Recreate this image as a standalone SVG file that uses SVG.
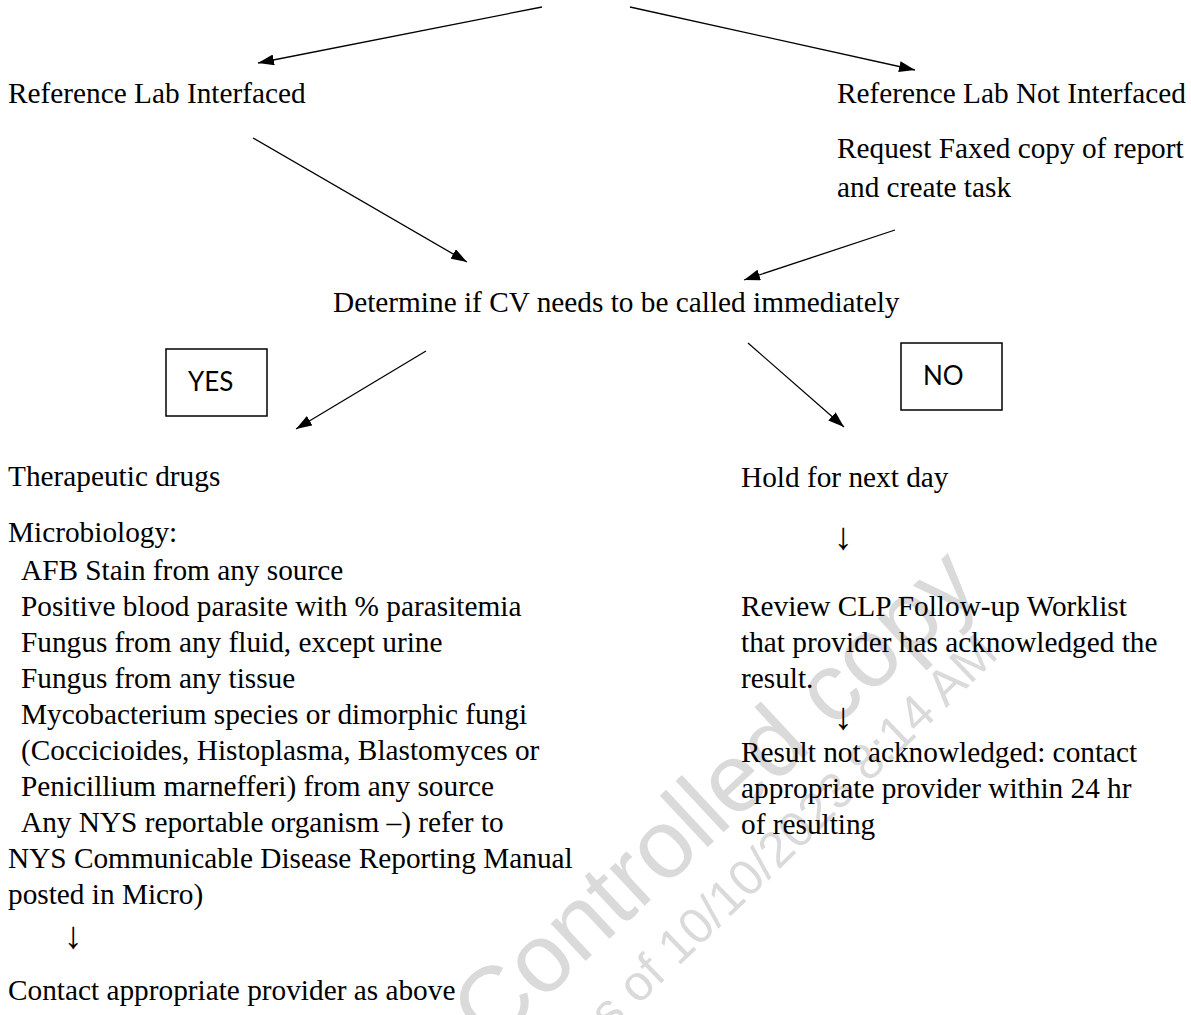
<svg xmlns="http://www.w3.org/2000/svg" width="1191" height="1015" viewBox="0 0 1191 1015">
<defs>
<marker id="ah" viewBox="0 0 16 11" refX="16" refY="5.5" markerWidth="16" markerHeight="11" markerUnits="userSpaceOnUse" orient="auto">
<path d="M0,0 L16,5.5 L0,11 z" fill="#000"/>
</marker>
<style>
text{font-family:"Liberation Serif","Times New Roman",serif;font-size:29.3px;fill:#000}
.sans{font-family:Lato,"Liberation Sans",Arial,sans-serif;font-size:26px}
.arr{font-size:38px;text-anchor:middle}
.wm{font-family:"Liberation Sans",Arial,sans-serif;fill:#dadada}
.conn line{stroke:#000;stroke-width:1.3;marker-end:url(#ah)}
.box{fill:none;stroke:#000;stroke-width:1.5}
</style>
</defs>
<rect width="1191" height="1015" fill="#fff"/>
<g id="watermark">
<text class="wm" transform="translate(490,1050) rotate(-43)" style="font-size:97px">Controlled copy</text>
<text class="wm" transform="translate(590,1052) rotate(-44)" style="font-size:50px">as of 10/10/2023 8:14 AM</text>
</g>
<g class="conn" id="connectors">
<line x1="542" y1="7" x2="258" y2="63"/>
<line x1="630" y1="7" x2="915" y2="70"/>
<line x1="253" y1="138" x2="467" y2="262"/>
<line x1="895" y1="230" x2="744" y2="280"/>
<line x1="426" y1="351" x2="296" y2="429"/>
<line x1="748" y1="343" x2="844" y2="427"/>
</g>
<g id="n-interfaced"><text x="8" y="103">Reference Lab Interfaced</text></g>
<g id="n-not-interfaced"><text x="837" y="103">Reference Lab Not Interfaced</text></g>
<g id="n-request"><text x="837" y="158">Request Faxed copy of report</text><text x="837" y="197">and create task</text></g>
<g id="n-determine"><text x="333" y="312">Determine if CV needs to be called immediately</text></g>
<g id="n-yes"><rect class="box" x="166" y="349" width="101" height="67"/><text class="sans" x="188" y="391">YES</text></g>
<g id="n-no"><rect class="box" x="901" y="343" width="101" height="67"/><text class="sans" x="923" y="385">NO</text></g>
<g id="n-yes-list">
<text x="8" y="486">Therapeutic drugs</text>
<text x="8" y="542">Microbiology:</text>
<text x="21" y="580">AFB Stain from any source</text>
<text x="21" y="616">Positive blood parasite with % parasitemia</text>
<text x="21" y="652">Fungus from any fluid, except urine</text>
<text x="21" y="688">Fungus from any tissue</text>
<text x="21" y="724">Mycobacterium species or dimorphic fungi</text>
<text x="21" y="760">(Coccicioides, Histoplasma, Blastomyces or</text>
<text x="21" y="796">Penicillium marnefferi) from any source</text>
<text x="21" y="832">Any NYS reportable organism –) refer to</text>
<text x="8" y="868">NYS Communicable Disease Reporting Manual</text>
<text x="8" y="904">posted in Micro)</text>
<text class="arr" x="73" y="948">↓</text>
<text x="8" y="1000">Contact appropriate provider as above</text>
</g>
<g id="n-no-list">
<text x="741" y="487">Hold for next day</text>
<text class="arr" x="843" y="549">↓</text>
<text x="741" y="616">Review CLP Follow-up Worklist</text>
<text x="741" y="652">that provider has acknowledged the</text>
<text x="741" y="688">result.</text>
<text class="arr" x="843" y="729">↓</text>
<text x="741" y="762">Result not acknowledged: contact</text>
<text x="741" y="798">appropriate provider within 24 hr</text>
<text x="741" y="834">of resulting</text>
</g>
</svg>
